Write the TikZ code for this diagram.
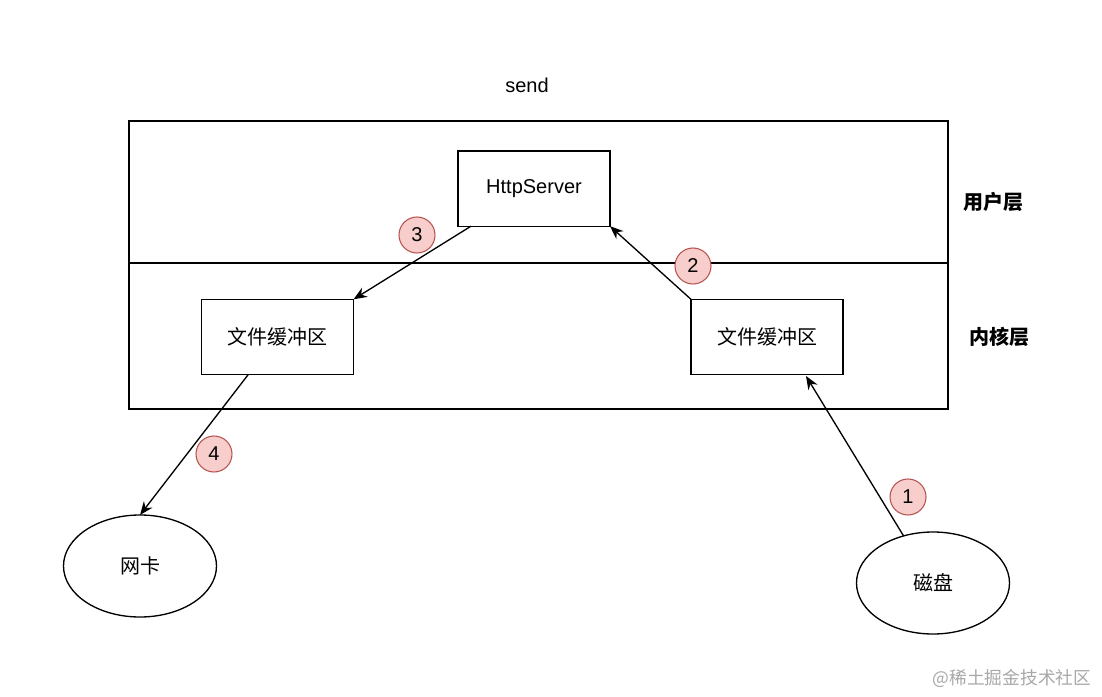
\documentclass[tikz,border=0pt]{standalone}
\usepackage{fontspec}
\setmainfont{Liberation Sans}
\newfontfamily\cjk{Noto Sans CJK SC}
\usetikzlibrary{arrows.meta,shapes.geometric,calc}
\definecolor{badgefill}{HTML}{F8CECC}
\definecolor{badgeline}{HTML}{B85450}
\definecolor{wm}{HTML}{A8A8A8}
\tikzset{
  box/.style={draw=black,line width=1pt,fill=white,minimum width=114pt,minimum height=56.5pt,inner sep=0pt,outer sep=0pt,font=\fontsize{15}{18}\selectfont},
  oval/.style={draw=black,line width=1pt,ellipse,minimum width=114.75pt,minimum height=76.5pt,inner sep=0pt,outer sep=0pt,font=\cjk\fontsize{15}{18}\selectfont},
  badge/.style={circle,draw=badgeline,fill=badgefill,line width=0.8pt,minimum size=27pt,inner sep=0pt,font=\fontsize{15}{18}\selectfont},
  flow/.style={draw=black,line width=1pt,-{Stealth[length=10pt,width=8pt]}},
  layer/.style={font=\cjk\bfseries\fontsize{15}{18}\selectfont},
}
\begin{document}
\begin{tikzpicture}[x=0.75pt,y=-0.75pt]
\useasboundingbox[fill=white] (0,0) rectangle (1102,696);
\node[font=\fontsize{15}{18}\selectfont] (send) at (527,85) {send};
\node[draw=black,line width=1pt,minimum width=614.25pt,minimum height=216pt,inner sep=0pt,outer sep=0pt] (frame) at (538.5,265) {};
\draw[draw=black,line width=1pt] (frame.west |- 0,263) coordinate (sepl) -- (frame.east |- 0,263) coordinate (sepr);
\node[layer] (user) at (993,202) {用户层};
\node[layer] (kernel) at (999,337) {内核层};
\node[box] (http) at (534,188.5) {HttpServer};
\node[box,font=\cjk\fontsize{15}{18}\selectfont] (lb) at (277.5,337) {文件缓冲区};
\node[box,font=\cjk\fontsize{15}{18}\selectfont] (rb) at (767,337) {文件缓冲区};
\node[oval] (nic) at (140,566) {网卡};
\node[oval] (disk) at (933,583) {磁盘};
\draw[flow] (disk.122) -- ([xshift=29.25pt,yshift=-1pt]rb.south);
\draw[flow] (rb.north west) -- (http.south east);
\draw[flow] ([xshift=9.75pt]http.south west) -- (lb.north east);
\draw[flow] ([xshift=-22pt]lb.south) -- (nic.north);
\node[badge] (b1) at (908,497) {1};
\node[badge] (b2) at (693,266) {2};
\node[badge] (b3) at (417,235) {3};
\node[badge] (b4) at (214,454) {4};
\node[text=wm,font=\cjk\fontsize{13.3}{16}\selectfont,anchor=east] (mark) at (1096,678) {@稀土掘金技术社区};
\end{tikzpicture}
\end{document}
